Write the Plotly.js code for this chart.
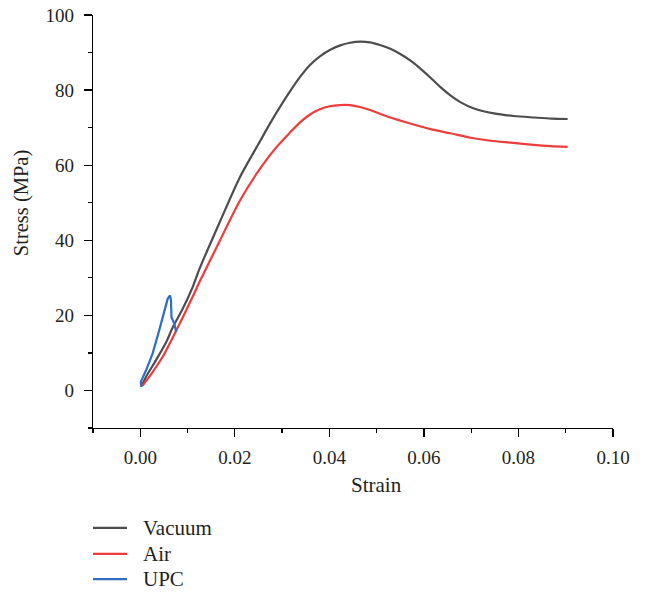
<!DOCTYPE html>
<html>
<head>
<meta charset="utf-8">
<script src="https://cdn.plot.ly/plotly-3.0.1.min.js"></script>
<style>html,body{margin:0;padding:0;background:#fff;}#chart{width:645px;height:593px;}</style>
</head>
<body>
<div id="chart"></div>
<script>
// Series names
const seriesNames = ["Vacuum", "Air", "UPC"];

// Vacuum
const vacuumStrain = [0.0002, 0.0012, 0.0033, 0.0055, 0.0069, 0.0090, 0.0111, 0.0125, 0.0168, 0.0210, 0.0253, 0.0274, 0.0295, 0.0316, 0.0338, 0.0359, 0.0380, 0.0401, 0.0423, 0.0444, 0.0465, 0.0486, 0.0507, 0.0529, 0.0550, 0.0571, 0.0592, 0.0614, 0.0635, 0.0656, 0.0677, 0.0706, 0.0748, 0.0790, 0.0833, 0.0870, 0.0904];
const vacuumStress = [1.0, 3.6, 8.0, 12.9, 16.9, 21.8, 27.6, 32.3, 44.8, 56.6, 66.3, 71.0, 75.4, 79.5, 83.5, 86.7, 89.0, 90.7, 91.9, 92.6, 92.9, 92.7, 92.0, 91.0, 89.6, 87.9, 85.8, 83.3, 80.8, 78.6, 76.8, 75.1, 73.8, 73.1, 72.7, 72.4, 72.3];

// Air
const airStrain = [0.0005, 0.0026, 0.0047, 0.0069, 0.0090, 0.0111, 0.0125, 0.0168, 0.0210, 0.0253, 0.0288, 0.0316, 0.0338, 0.0359, 0.0380, 0.0401, 0.0423, 0.0444, 0.0465, 0.0486, 0.0529, 0.0571, 0.0614, 0.0656, 0.0699, 0.0741, 0.0783, 0.0826, 0.0868, 0.0904];
const airStress = [1.3, 4.9, 8.9, 14.2, 19.5, 25.0, 28.8, 39.8, 50.4, 59.0, 64.8, 68.6, 71.4, 73.5, 74.9, 75.7, 76.0, 76.0, 75.5, 74.7, 72.7, 71.1, 69.6, 68.5, 67.3, 66.5, 66.0, 65.5, 65.1, 64.9];

// UPC
const upcStrain = [0.0002, 0.0001, 0.0012, 0.0026, 0.0040, 0.0051, 0.0058, 0.0063, 0.0065, 0.0066, 0.0072, 0.0076];
const upcStress = [1.0, 2.3, 5.3, 9.8, 16.0, 21.3, 24.4, 25.3, 24.0, 19.5, 17.8, 15.5];

// Axis ticks
const xTickVals = [0.00, 0.02, 0.04, 0.06, 0.08, 0.10];
const xTickText = ["0.00", "0.02", "0.04", "0.06", "0.08", "0.10"];
const yTickVals = [0, 20, 40, 60, 80, 100];
const yTickText = ["0", "20", "40", "60", "80", "100"];

const colors = ["#4d4d4d", "#ee3b3b", "#2f6ec2"];
const FONT = "Liberation Serif, Times New Roman, serif";
const TXT = "#231f20";

const traces = [
  {x: vacuumStrain, y: vacuumStress, name: seriesNames[0], mode: "lines", line: {color: colors[0], width: 2.2, shape: "spline", smoothing: 0.8}},
  {x: airStrain, y: airStress, name: seriesNames[1], mode: "lines", line: {color: colors[1], width: 2.2, shape: "spline", smoothing: 0.8}},
  {x: upcStrain, y: upcStress, name: seriesNames[2], mode: "lines", line: {color: colors[2], width: 2.2}}
];

// custom legend
const legendY = [-0.242, -0.305, -0.366];
const shapes = [];
const annotations = [];
seriesNames.forEach((n, i) => {
  shapes.push({type: "line", xref: "paper", yref: "paper", x0: 0, x1: 0.0654, y0: legendY[i], y1: legendY[i], line: {color: colors[i], width: 2.2}});
  annotations.push({xref: "paper", yref: "paper", x: 0.0923, y: legendY[i], xanchor: "left", yanchor: "middle", showarrow: false, text: n, font: {family: FONT, size: 21, color: TXT}});
});
annotations.push({xref: "paper", yref: "paper", x: 0.546, y: -0.137, xanchor: "center", yanchor: "middle", showarrow: false, text: "Strain", font: {family: FONT, size: 21, color: TXT}});
annotations.push({xref: "paper", yref: "paper", x: -0.136, y: 0.545, xanchor: "center", yanchor: "middle", textangle: -90, showarrow: false, text: "Stress (MPa)", font: {family: FONT, size: 20.5, color: TXT}});

const layout = {
  width: 645, height: 593,
  margin: {l: 93, r: 32, t: 15, b: 165},
  paper_bgcolor: "#fff", plot_bgcolor: "#fff",
  showlegend: false,
  font: {family: FONT, size: 19, color: TXT},
  xaxis: {
    range: [-0.01, 0.10], showgrid: false, zeroline: false,
    showline: true, linecolor: "#000", linewidth: 1.3,
    tickmode: "array", tickvals: xTickVals, ticktext: xTickText,
    ticks: "outside", ticklen: 8, tickwidth: 1.3, tickcolor: "#000",
    ticklabelstandoff: 4,
    minor: {dtick: 0.01, tick0: 0, ticks: "outside", ticklen: 4, tickwidth: 1.3, tickcolor: "#000", showgrid: false},
    tickfont: {family: FONT, size: 19, color: TXT}
  },
  yaxis: {
    range: [-10, 100], showgrid: false, zeroline: false,
    showline: true, linecolor: "#000", linewidth: 1.3,
    tickmode: "array", tickvals: yTickVals, ticktext: yTickText,
    ticks: "outside", ticklen: 8, tickwidth: 1.3, tickcolor: "#000",
    ticklabelstandoff: 6,
    minor: {dtick: 10, tick0: 0, ticks: "outside", ticklen: 4, tickwidth: 1.3, tickcolor: "#000", showgrid: false},
    tickfont: {family: FONT, size: 19, color: TXT}
  },
  shapes: shapes,
  annotations: annotations
};

Plotly.newPlot("chart", traces, layout, {displayModeBar: false, staticPlot: true});
</script>
</body>
</html>
